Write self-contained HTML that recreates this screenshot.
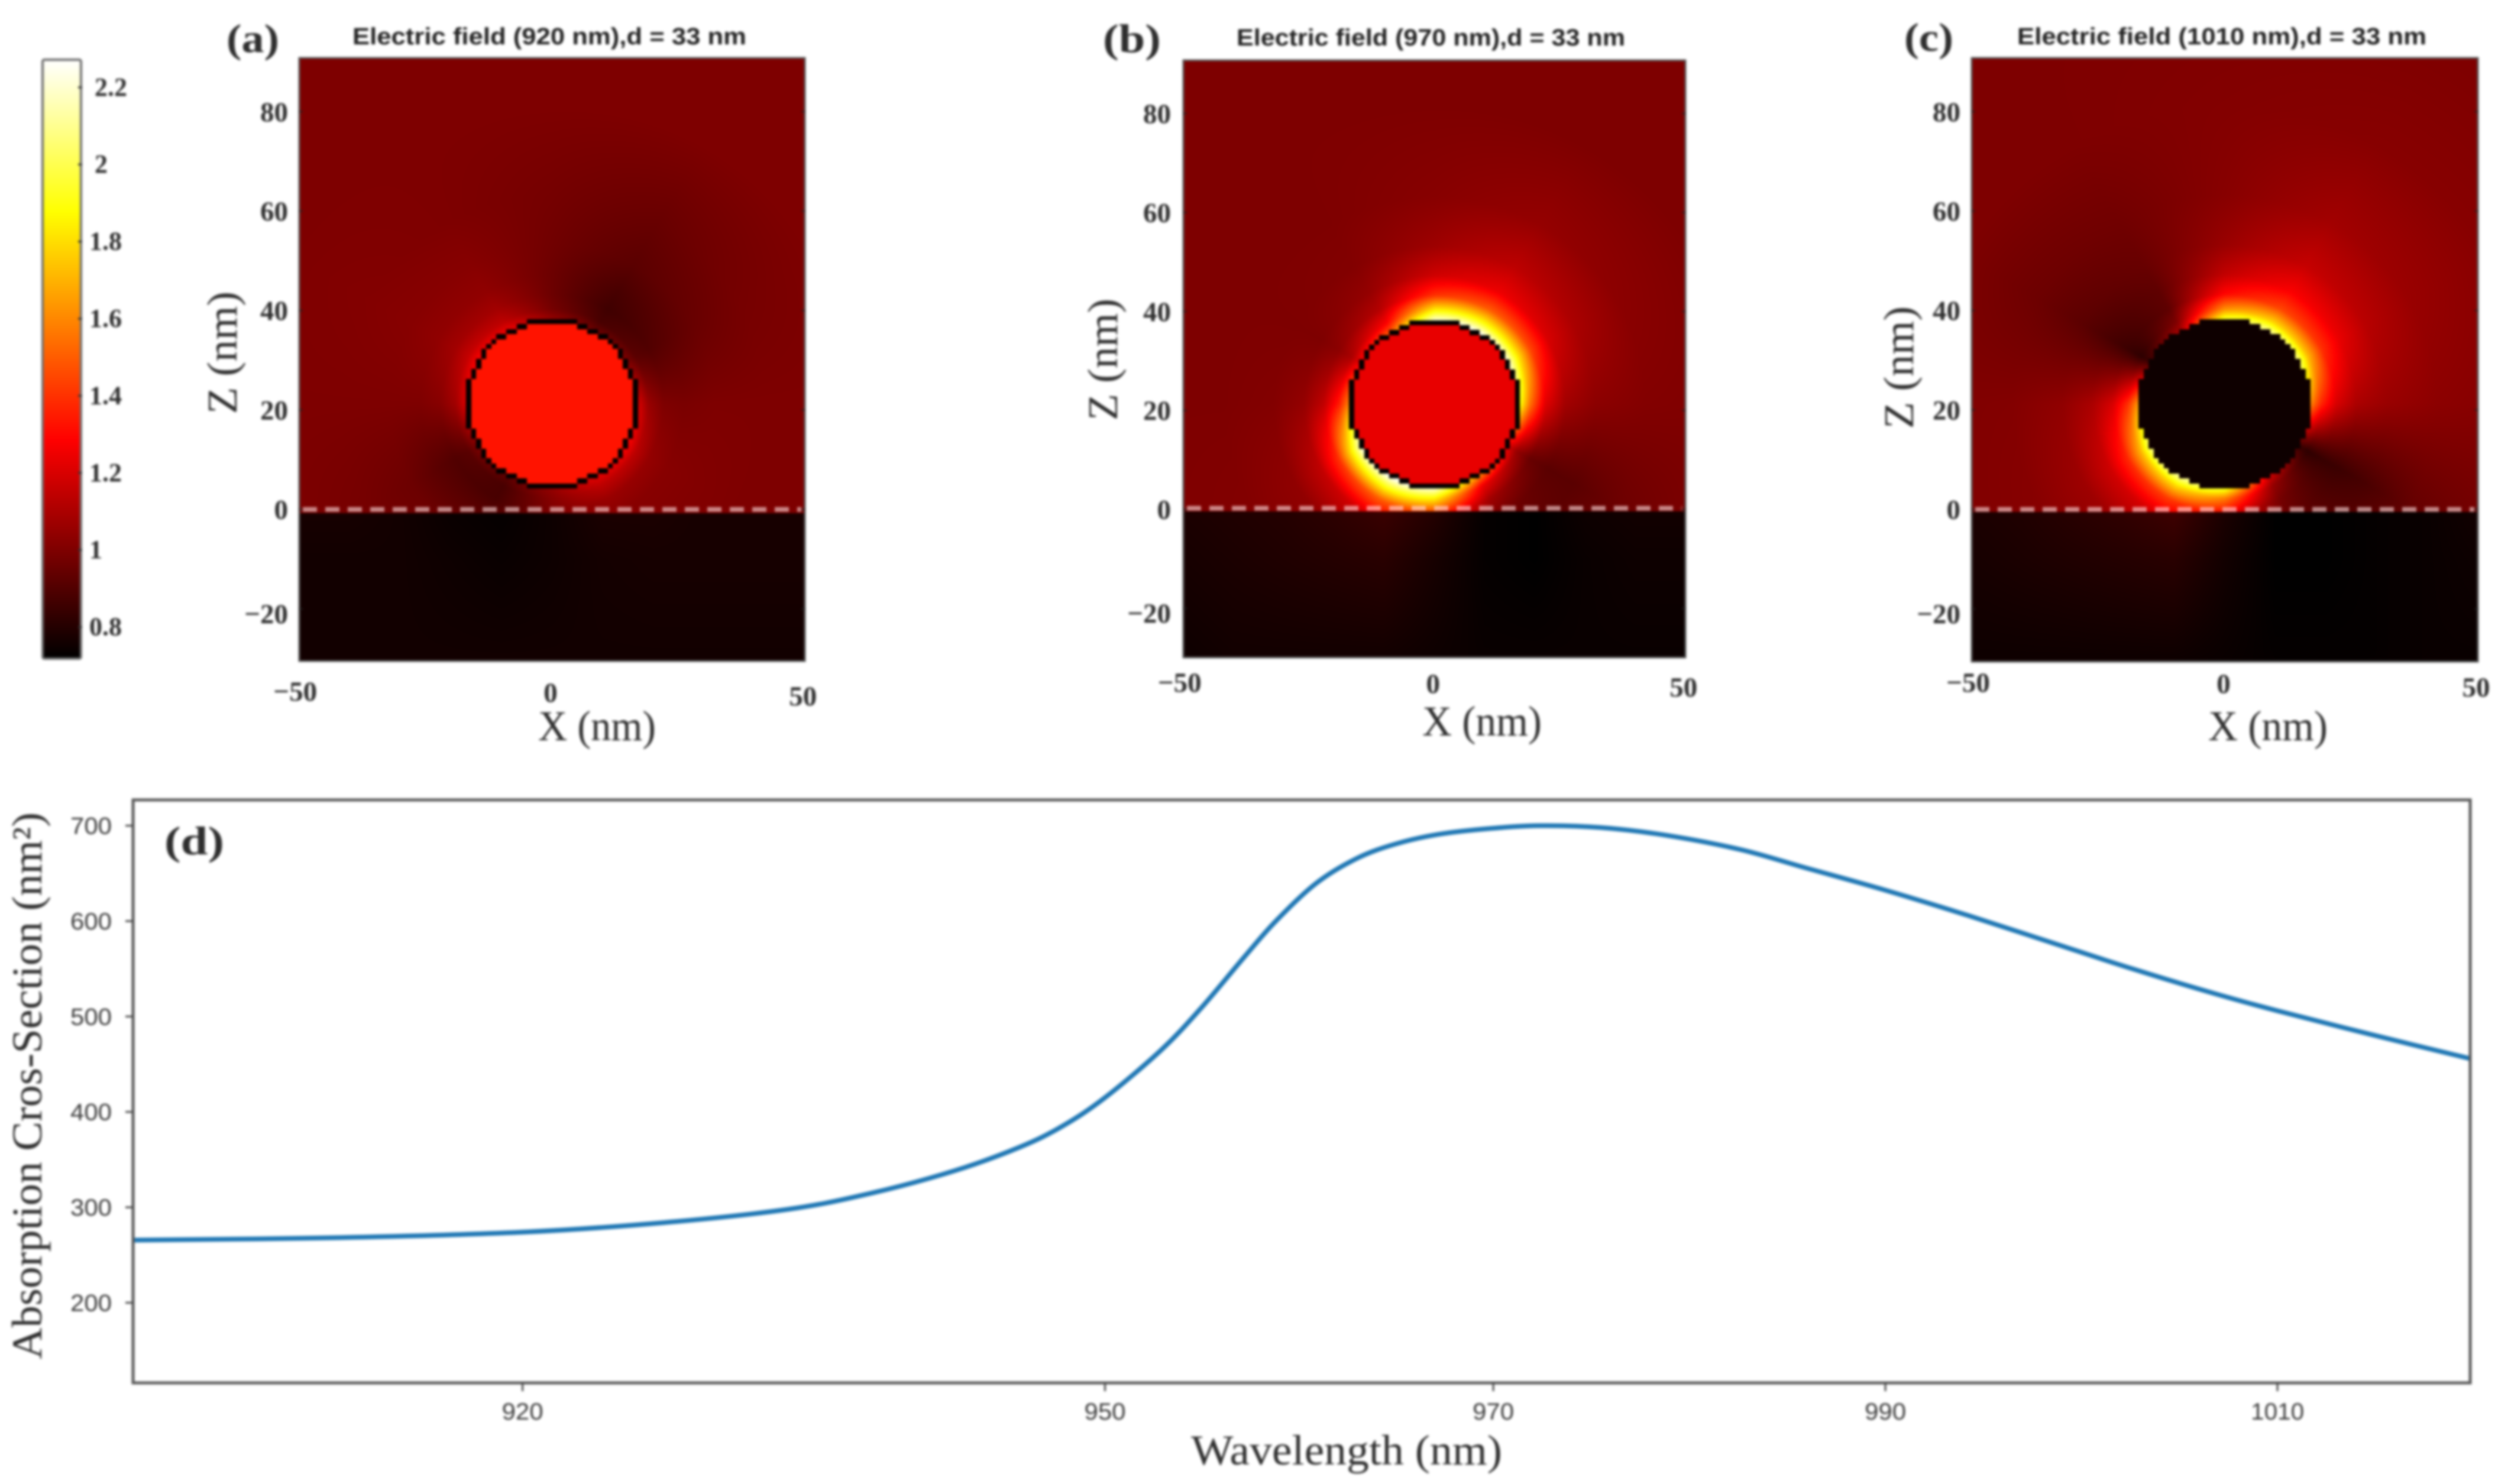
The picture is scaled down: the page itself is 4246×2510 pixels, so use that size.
<!DOCTYPE html>
<html lang="en">
<head>
<meta charset="utf-8">
<title>Electric field maps and absorption cross-section</title>
<style>
  html, body { margin: 0; padding: 0; background: #fff; }
  #figure { position: relative; width: 4246px; height: 2510px; overflow: hidden; background: #fff; filter: blur(2px); }
  canvas { position: absolute; display: block; }
  #overlay { position: absolute; left: 0; top: 0; }
  text { font-family: "Liberation Serif", serif; fill: #2e2e2e; }
  .sans { font-family: "Liberation Sans", sans-serif; }
</style>
</head>
<body>
<div id="figure">
  <canvas id="colorbar"></canvas>
  <canvas id="map-a"></canvas>
  <canvas id="map-b"></canvas>
  <canvas id="map-c"></canvas>
  <svg id="overlay" width="4246" height="2510" viewBox="0 0 4246 2510" xmlns="http://www.w3.org/2000/svg"></svg>
</div>
<script>
// ---------- Data ----------
const colorbarTicks = [0.8, 1, 1.2, 1.4, 1.6, 1.8, 2, 2.2];
const colorMin = 0.72;
const colorMax = 2.27;

const zTicks = [80, 60, 40, 20, 0, -20];
const xTicks = [-50, 0, 50];

// Field magnitude sampled on rings around the sphere (nm) at every 30 degrees, counter-clockwise from +X
const ringRadii = [17, 19, 22, 26, 32, 42, 60];
const ringAngles = [0, 30, 60, 90, 120, 150, 180, 210, 240, 270, 300, 330];

const fieldA = [
  [1.20,1.00,0.95,1.05,1.25,1.28,1.20,1.00,0.93,1.05,1.22,1.28],
  [1.06,0.92,0.88,0.98,1.14,1.16,1.08,0.92,0.88,1.02,1.14,1.14],
  [1.00,0.90,0.86,0.96,1.08,1.08,1.02,0.90,0.88,1.00,1.06,1.05],
  [0.99,0.92,0.88,0.96,1.04,1.04,1.00,0.92,0.92,1.00,1.02,1.02],
  [1.00,0.95,0.92,0.97,1.02,1.02,1.00,0.96,0.96,1.00,1.01,1.01],
  [1.00,0.98,0.95,0.98,1.00,1.01,1.00,0.98,0.98,1.00,1.00,1.00],
  [1.00,1.00,1.00,1.00,1.00,1.00,1.00,1.00,1.00,1.00,1.00,1.00]
];
const fieldB = [
  [1.90,2.20,2.25,2.20,1.50,1.25,1.60,2.20,2.27,2.20,1.60,1.20],
  [1.55,1.85,1.90,1.85,1.28,1.10,1.35,1.85,1.95,1.85,1.25,1.05],
  [1.22,1.45,1.50,1.40,1.12,1.03,1.15,1.40,1.50,1.40,1.08,0.95],
  [1.08,1.20,1.25,1.18,1.05,1.00,1.05,1.15,1.20,1.12,0.98,0.92],
  [1.03,1.10,1.14,1.07,1.01,1.00,1.01,1.04,1.05,1.02,0.94,0.92],
  [1.01,1.03,1.05,1.02,1.00,1.00,1.00,1.01,1.01,1.00,0.97,0.96],
  [1.00,1.00,1.00,1.00,1.00,1.00,1.00,1.00,1.00,1.00,1.00,1.00]
];
const fieldC = [
  [1.60,2.05,2.10,1.95,1.10,0.85,1.65,2.05,2.12,1.95,1.20,0.85],
  [1.38,1.72,1.78,1.62,1.00,0.82,1.40,1.72,1.80,1.58,1.05,0.82],
  [1.20,1.40,1.45,1.30,0.93,0.85,1.20,1.38,1.42,1.28,0.98,0.84],
  [1.10,1.24,1.28,1.15,0.93,0.88,1.10,1.18,1.20,1.12,0.95,0.85],
  [1.06,1.13,1.16,1.06,0.95,0.92,1.04,1.07,1.07,1.02,0.94,0.88],
  [1.03,1.06,1.08,1.02,0.97,0.96,1.01,1.02,1.02,1.00,0.96,0.94],
  [1.01,1.02,1.02,1.01,1.00,1.00,1.00,1.00,1.00,1.00,0.99,0.98]
];

// Field in the substrate: rows at these depths, columns at these X positions
const substrateDepths = [0, -10, -30];
const substrateX = [-50, -40, -30, -20, -10, 0, 10, 20, 30, 40, 50];
const substrateA = [
  [0.77,0.77,0.76,0.74,0.73,0.75,0.78,0.78,0.77,0.77,0.77],
  [0.76,0.76,0.76,0.75,0.74,0.75,0.765,0.77,0.77,0.77,0.77],
  [0.76,0.76,0.76,0.76,0.76,0.76,0.76,0.76,0.76,0.76,0.76]
];
const substrateB = [
  [0.78,0.79,0.80,0.82,0.85,0.80,0.73,0.72,0.75,0.76,0.76],
  [0.77,0.78,0.79,0.80,0.81,0.77,0.73,0.72,0.74,0.75,0.75],
  [0.75,0.76,0.76,0.76,0.76,0.75,0.74,0.74,0.74,0.74,0.74]
];
const substrateC = [
  [0.78,0.79,0.81,0.83,0.86,0.78,0.72,0.72,0.73,0.74,0.76],
  [0.77,0.78,0.79,0.80,0.81,0.76,0.72,0.72,0.73,0.74,0.75],
  [0.75,0.75,0.75,0.75,0.75,0.74,0.73,0.73,0.73,0.74,0.74]
];

const interiorValues = [1.33, 1.235, 0.75];
const sphereRadius = 17.2;
const sphereCenterZ = 21.3;
const panelTitles = ["Electric field (920 nm),d = 33 nm", "Electric field (970 nm),d = 33 nm", "Electric field (1010 nm),d = 33 nm"];
const panelLetters = ["(a)", "(b)", "(c)"];

// Spectrum in panel (d)
const wavelengths = [900,910,920,927.3,933.7,938,942.2,945.6,947.8,950,952.9,955,957.2,958.8,960.9,963,965,967.2,969.8,972.4,975.5,978.8,982.6,985.9,989.9,994.2,998.4,1002.6,1006.8,1010,1015,1020];
const absorption = [265.6,268,274,284,298,315,338,363,385,415,465,510,563,600,640,666,681,691,697,700,698,690,675,656,633,606,578,550,524,506,480,455];
const spectrumXTicks = [920, 950, 970, 990, 1010];
const spectrumYTicks = [200, 300, 400, 500, 600, 700];

// ---------- Layout ----------
const SVGNS = "http://www.w3.org/2000/svg";
const overlay = document.getElementById("overlay");

function lerp(a, b, t) { return a + (b - a) * t; }
function clamp01(v) { return v < 0 ? 0 : v > 1 ? 1 : v; }
function hot(v) {
  const t = clamp01((v - colorMin) / (colorMax - colorMin));
  return [
    Math.round(255 * clamp01(t / 0.365)),
    Math.round(255 * clamp01((t - 0.365) / 0.381)),
    Math.round(255 * clamp01((t - 0.746) / 0.254))
  ];
}

function addText(str, x, y, size, opts, name) {
  const o = opts || {};
  const t = document.createElementNS(SVGNS, "text");
  t.setAttribute("x", x);
  t.setAttribute("y", y);
  t.setAttribute("font-size", size);
  if (o.weight) t.setAttribute("font-weight", o.weight);
  if (o.anchor) t.setAttribute("text-anchor", o.anchor);
  if (o.cls) t.setAttribute("class", o.cls);
  if (o.fill) t.style.fill = o.fill;
  if (o.length) {
    t.setAttribute("textLength", o.length);
    t.setAttribute("lengthAdjust", "spacingAndGlyphs");
  }
  if (o.rotate) t.setAttribute("transform", "rotate(-90 " + x + " " + y + ")");
  t.textContent = str;
  
  
  overlay.appendChild(t);
  return t;
}
function addLine(x1, y1, x2, y2, stroke, width, name, dash) {
  const l = document.createElementNS(SVGNS, "line");
  l.setAttribute("x1", x1);
  l.setAttribute("y1", y1);
  l.setAttribute("x2", x2);
  l.setAttribute("y2", y2);
  l.setAttribute("stroke", stroke);
  l.setAttribute("stroke-width", width);
  if (dash) l.setAttribute("stroke-dasharray", dash);
  
  
  overlay.appendChild(l);
  return l;
}
function addFrame(x, y, w, h, stroke, width, name, rx) {
  const r = document.createElementNS(SVGNS, "rect");
  r.setAttribute("x", x);
  r.setAttribute("y", y);
  r.setAttribute("width", w);
  r.setAttribute("height", h);
  r.setAttribute("fill", "none");
  r.setAttribute("stroke", stroke);
  r.setAttribute("stroke-width", width);
  if (rx) r.setAttribute("rx", rx);
  
  
  overlay.appendChild(r);
  return r;
}
function fmtMinus(v) { return v < 0 ? "\u2212" + Math.abs(v) : String(v); }

// ---------- Colour bar ----------
(function drawColorbar() {
  const left = 72, top = 101, w = 65, h = 1013;
  const c = document.getElementById("colorbar");
  c.width = w; c.height = h;
  c.style.left = left + "px"; c.style.top = top + "px";
  const ctx = c.getContext("2d");
  for (let i = 0; i < h; i++) {
    const col = hot(lerp(colorMax, colorMin, i / (h - 1)));
    ctx.fillStyle = "rgb(" + col.join(",") + ")";
    ctx.fillRect(0, i, w, 1);
  }
  addFrame(left, top, w, h, "#6f6f6f", 4, "colorbar-frame", 3);
  const yOf = function (v) { return 1060.6 - (v - 0.8) * 652; };
  colorbarTicks.forEach(function (v) {
    const label = Number.isInteger(v) ? String(v) : v.toFixed(1);
    addLine(left + w - 5, yOf(v), left + w + 2, yOf(v), "#333", 3, "colorbar-tick");
    addText(label, v >= 2 ? 160 : 151, yOf(v) + 14, 44, { weight: "bold" }, "colorbar-tick-label");
  });
})();

// ---------- Field maps ----------
const panels = [
  { id: "map-a", L: 506,  R: 1361, T: 98,  B: 1118, x0: 933,    sx: 8.556, y0: 861.6, sy: 8.41, subY: 868, dashY: 861.6, cx: 0,    field: fieldA, sub: substrateA, outline: true,
    letterX: 383, letterLen: 89, letterY: 88, titleX: 596, titleLen: 666, titleY: 75, xLabelX: 910, xLabelLen: 199, xLabelY: 1252, zLabelX: 400, zLabelY: 700, zLabelLen: 207, xTickY: 1169, zTickR: 487 },
  { id: "map-b", L: 2001, R: 2850, T: 102, B: 1112, x0: 2425.3, sx: 8.49,  y0: 861.6, sy: 8.37, subY: 865, dashY: 859.6, cx: 0,    field: fieldB, sub: substrateB, outline: true,
    letterX: 1865, letterLen: 98, letterY: 88, titleX: 2091, titleLen: 657, titleY: 77, xLabelX: 2405, xLabelLen: 202, xLabelY: 1244, zLabelX: 1889, zLabelY: 711, zLabelLen: 206, xTickY: 1154, zTickR: 1980 },
  { id: "map-c", L: 3334, R: 4190, T: 98,  B: 1119, x0: 3762,   sx: 8.56,  y0: 861.6, sy: 8.41, subY: 866, dashY: 861.6, cx: -0.1, field: fieldC, sub: substrateC, outline: false,
    letterX: 3220, letterLen: 83, letterY: 86, titleX: 3411, titleLen: 692, titleY: 75, xLabelX: 3734, xLabelLen: 202, xLabelY: 1252, zLabelX: 3235, zLabelY: 725, zLabelLen: 207, xTickY: 1154, zTickR: 3315 }
];

function sampleOutside(field, r, thetaDeg) {
  const n = ringAngles.length;
  const a = ((thetaDeg % 360) + 360) % 360;
  const step = 360 / n;
  const ia = Math.floor(a / step) % n;
  const ib = (ia + 1) % n;
  const ta = a / step - Math.floor(a / step);
  const rr = Math.max(r, ringRadii[0]);
  let k = 0;
  while (k < ringRadii.length - 1 && rr > ringRadii[k + 1]) k++;
  const ringValue = function (idx) { return lerp(field[idx][ia], field[idx][ib], ta); };
  if (k >= ringRadii.length - 1) {
    const last = ringValue(ringRadii.length - 1);
    return lerp(last, 1, clamp01((rr - ringRadii[k]) / 25));
  }
  const tr = (rr - ringRadii[k]) / (ringRadii[k + 1] - ringRadii[k]);
  return lerp(ringValue(k), ringValue(k + 1), tr);
}
function sampleSubstrate(table, x, z) {
  const fx = clamp01((x - substrateX[0]) / (substrateX[substrateX.length - 1] - substrateX[0])) * (substrateX.length - 1);
  const ix = Math.min(Math.floor(fx), substrateX.length - 2);
  const tx = fx - ix;
  let row = 0;
  while (row < substrateDepths.length - 2 && z < substrateDepths[row + 1]) row++;
  const tz = clamp01((substrateDepths[row] - z) / (substrateDepths[row] - substrateDepths[row + 1]));
  const v0 = lerp(table[row][ix], table[row][ix + 1], tx);
  const v1 = lerp(table[row + 1][ix], table[row + 1][ix + 1], tx);
  return lerp(v0, v1, tz);
}
function inSphereCell(ix, iz) {
  return Math.hypot(ix + 0.5, iz + 0.5) < sphereRadius;
}

panels.forEach(function (p, index) {
  const w = p.R - p.L, h = p.B - p.T;
  const c = document.getElementById(p.id);
  c.width = w; c.height = h;
  c.style.left = p.L + "px"; c.style.top = p.T + "px";
  const ctx = c.getContext("2d");
  const img = ctx.createImageData(w, h);
  const xOf = function (nm) { return p.x0 + nm * p.sx; };
  const yOf = function (nm) { return p.y0 - nm * p.sy; };
  for (let j = 0; j < h; j++) {
    const py = p.T + j;
    const z = (p.y0 - py) / p.sy;
    for (let i = 0; i < w; i++) {
      const px = p.L + i;
      const x = (px - p.x0) / p.sx;
      let v, black = false;
      if (py >= p.subY) {
        v = sampleSubstrate(p.sub, x, z);
      } else {
        const dx = x - p.cx, dz = z - sphereCenterZ;
        const ix = Math.floor(dx), iz = Math.floor(dz);
        if (inSphereCell(ix, iz)) {
          v = interiorValues[index];
          if (p.outline && (!inSphereCell(ix + 1, iz) || !inSphereCell(ix - 1, iz) || !inSphereCell(ix, iz + 1) || !inSphereCell(ix, iz - 1))) black = true;
        } else {
          v = sampleOutside(p.field, Math.hypot(dx, dz), Math.atan2(dz, dx) * 180 / Math.PI);
        }
      }
      const col = black ? [0, 0, 0] : hot(v);
      const o = (j * w + i) * 4;
      img.data[o] = col[0];
      img.data[o + 1] = col[1];
      img.data[o + 2] = col[2];
      img.data[o + 3] = 255;
    }
  }
  ctx.putImageData(img, 0, 0);

  addLine(p.L + 6, p.dashY, p.R - 6, p.dashY, "rgba(255,225,225,0.6)", 8, "interface-dashed-line", "24 14");
  addFrame(p.L, p.T, w, h, "#555", 3, "plot-frame");

  addText(panelLetters[index], p.letterX, p.letterY, 68, { weight: "bold", length: p.letterLen }, "panel-label");
  addText(panelTitles[index], p.titleX, p.titleY, 40, { weight: "bold", cls: "sans", length: p.titleLen, fill: "#222" }, "panel-title");

  zTicks.forEach(function (v) {
    addText(fmtMinus(v), p.zTickR, yOf(v) + 16 + (v < 0 ? 8 : 0), 47, { weight: "bold", anchor: "end" }, "z-tick-label");
    addLine(p.L, yOf(v), p.L + 6, yOf(v), "#222", 2, "z-tick");
    addLine(p.R - 6, yOf(v), p.R, yOf(v), "#222", 2, "z-tick");
  });
  xTicks.forEach(function (v) {
    const dx = v < 0 ? -6 : (v > 0 ? -3 : -2);
    const dy = v > 0 ? 8 : (v === 0 ? 2 : 0);
    addText(fmtMinus(v), xOf(v) + dx, p.xTickY + dy + 16, 47, { weight: "bold", anchor: "middle" }, "x-tick-label");
  });
  addText("X (nm)", p.xLabelX, p.xLabelY, 72, { length: p.xLabelLen }, "x-axis-title");
  addText("Z (nm)", p.zLabelX, p.zLabelY, 72, { rotate: true, length: p.zLabelLen }, "z-axis-title");
});

// ---------- Spectrum panel (d) ----------
(function drawSpectrum() {
  const left = 225, right = 4177, top = 1353, bottom = 2339;
  const xScale = function (v) { return v <= 970 ? 227 + (v - 900) * 32.83 : 2525.1 + (v - 970) * 33.15; };
  const yScale = function (v) { return 2203.4 - (v - 200) * 1.6137; };

  const defs = document.createElementNS(SVGNS, "defs");
  const clip = document.createElementNS(SVGNS, "clipPath");
  clip.setAttribute("id", "spectrum-clip");
  const clipRect = document.createElementNS(SVGNS, "rect");
  clipRect.setAttribute("x", left);
  clipRect.setAttribute("y", top);
  clipRect.setAttribute("width", right - left);
  clipRect.setAttribute("height", bottom - top);
  clip.appendChild(clipRect);
  defs.appendChild(clip);
  overlay.appendChild(defs);

  const pts = wavelengths.map(function (w, i) { return [xScale(w), yScale(absorption[i])]; });
  let d = "M" + pts[0][0] + " " + pts[0][1];
  for (let i = 0; i < pts.length - 1; i++) {
    const p0 = pts[Math.max(i - 1, 0)], p1 = pts[i], p2 = pts[i + 1], p3 = pts[Math.min(i + 2, pts.length - 1)];
    const c1x = p1[0] + (p2[0] - p0[0]) / 6, c1y = p1[1] + (p2[1] - p0[1]) / 6;
    const c2x = p2[0] - (p3[0] - p1[0]) / 6, c2y = p2[1] - (p3[1] - p1[1]) / 6;
    d += " C" + c1x + " " + c1y + " " + c2x + " " + c2y + " " + p2[0] + " " + p2[1];
  }
  const line = document.createElementNS(SVGNS, "path");
  line.setAttribute("d", d);
  line.setAttribute("fill", "none");
  line.setAttribute("stroke", "#1f77b4");
  line.setAttribute("stroke-width", 8);
  line.setAttribute("clip-path", "url(#spectrum-clip)");
  
  
  overlay.appendChild(line);

  addFrame(left, top, right - left, bottom - top, "#5a5a5a", 5, "spectrum-frame");

  spectrumYTicks.forEach(function (v) {
    addLine(left - 13, yScale(v), left, yScale(v), "#444", 3, "spectrum-y-tick");
    addText(String(v), 189, yScale(v) + 14, 40, { cls: "sans", anchor: "end", length: 70, fill: "#3a3a3a" }, "spectrum-y-tick-label");
  });
  spectrumXTicks.forEach(function (v) {
    addLine(xScale(v), bottom, xScale(v), bottom + 14, "#444", 3, "spectrum-x-tick");
    addText(String(v), xScale(v) - (v > 1000 ? 45 : 35), 2401, 40, { cls: "sans", length: v > 1000 ? 90 : 70, fill: "#3a3a3a" }, "spectrum-x-tick-label");
  });

  addText("(d)", 278, 1445, 68, { weight: "bold", length: 101 }, "panel-label");
  addText("Wavelength (nm)", 2014, 2477, 72, { length: 526 }, "spectrum-x-axis-title");
  addText("Absorption Cros-Section (nm\u00B2)", 70, 2299, 72, { rotate: true, length: 925 }, "spectrum-y-axis-title");
})();
</script>
</body>
</html>
